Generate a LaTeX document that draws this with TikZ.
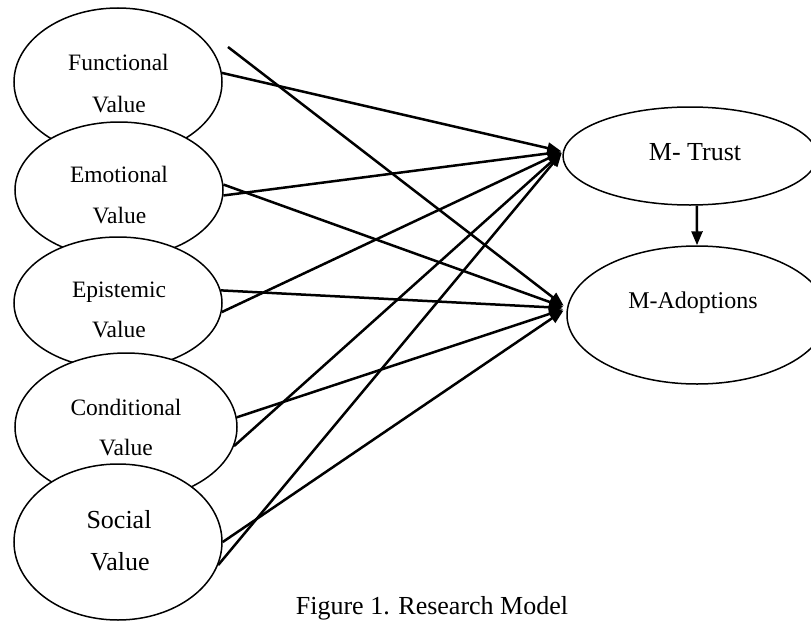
\documentclass[tikz,border=0pt]{standalone}
\usepackage{fontspec}
\setmainfont{Liberation Serif}
\usetikzlibrary{shapes.geometric,arrows.meta}
\tikzset{
  ell/.style={draw, ellipse, fill=white, line width=1.5pt, inner sep=0pt},
  lbl/.style={anchor=base, inner sep=0pt, font=\fontsize{23.5}{28}\selectfont},
  biglbl/.style={anchor=base, inner sep=0pt, font=\fontsize{26}{30}\selectfont},
  arr/.style={line width=2.5pt, -{Triangle[length=14pt,width=11pt]}}
}
\begin{document}
\begin{tikzpicture}[x=1pt,y=-1pt]
\useasboundingbox (0,0) rectangle (811,621);
% left ellipses
\node[ell, minimum width=208pt, minimum height=148pt] (fun) at (118,82) {};
\node[ell, minimum width=208pt, minimum height=136pt] (emo) at (119,190) {};
\node[ell, minimum width=208pt, minimum height=132pt] (epi) at (118,303) {};
\node[ell, minimum width=222pt, minimum height=148pt] (con) at (126,427) {};
\node[ell, minimum width=208pt, minimum height=156pt] (soc) at (118,542) {};
% right ellipses
\node[ell, minimum width=254pt, minimum height=98pt] (trust) at (690,156) {};
\node[ell, minimum width=260pt, minimum height=138pt] (adopt) at (697,315) {};
% labels
\node[lbl] (t1a) at (118.5,70) {Functional};
\node[lbl] (t1b) at (119,112) {Value};
\node[lbl] (t2a) at (119,182) {Emotional};
\node[lbl] (t2b) at (119.5,223) {Value};
\node[lbl] (t3a) at (119,297) {Epistemic};
\node[lbl] (t3b) at (119,337) {Value};
\node[lbl] (t4a) at (126,415) {Conditional};
\node[lbl] (t4b) at (126,455) {Value};
\node[biglbl] (t5a) at (119,528) {Social};
\node[biglbl] (t5b) at (120,570) {Value};
\node[biglbl] (t6) at (695,160) {M- Trust};
\node[lbl, font=\fontsize{24}{28}\selectfont] (t7) at (693,308) {M-Adoptions};
% free start point
\coordinate (free) at (228,47);
% connectors
\draw[arr, shorten >=1.5pt] (fun.5) -- (trust.178);
\draw[arr, shorten >=4pt] (free) -- (adopt.177);
\draw[arr, shorten >=1.5pt] (emo.-3) -- (trust.178);
\draw[arr, shorten >=4pt] (emo.3) -- (adopt.177);
\draw[arr, shorten >=1.5pt] (epi.-5) -- (trust.178);
\draw[arr, shorten >=4pt] (epi.7) -- (adopt.177);
\draw[arr, shorten >=4pt] (con.5) -- (adopt.177);
\draw[arr, shorten >=1.5pt] (con.-10) -- (trust.178);
\draw[arr, shorten >=4pt] (soc.0) -- (adopt.177);
\draw[arr, shorten >=1.5pt] (soc.-13) -- (trust.178);
\draw[arr] (trust.-82) -- (adopt.north);
% caption
\node[biglbl] (cap) at (432,614) {Figure 1. Research Model};
\end{tikzpicture}
\end{document}
